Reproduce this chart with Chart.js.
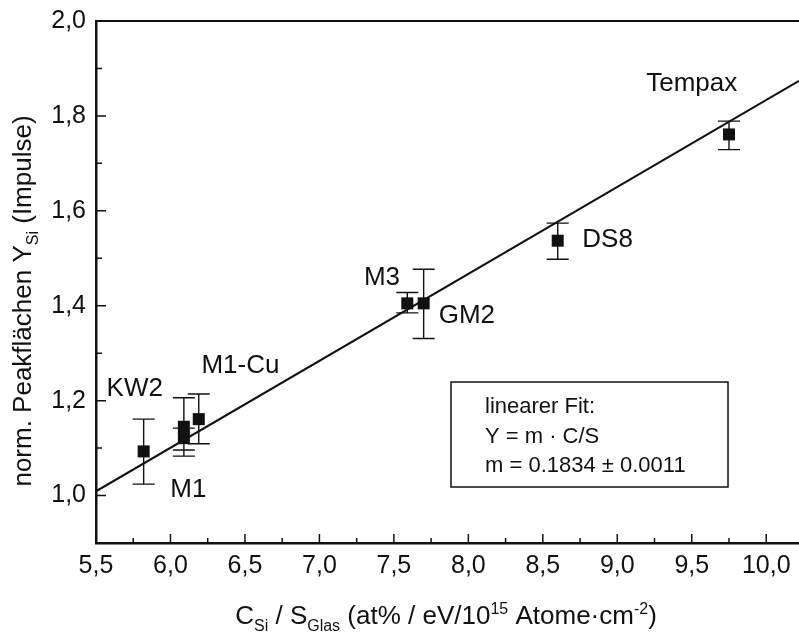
<!DOCTYPE html>
<html>
<head>
<meta charset="utf-8">
<script src="https://cdn.jsdelivr.net/npm/chart.js@4.4.0/dist/chart.umd.min.js"></script>
<style>
  html, body { margin: 0; padding: 0; background: #fff; }
  canvas { display: block; }
</style>
</head>
<body>
<canvas id="fitChart" width="799" height="633"></canvas>
<script>
// values
const sampleNames = ['KW2', 'M1', 'M1', 'M1-Cu', 'M3', 'GM2', 'DS8', 'Tempax'];
const xVals = [5.82, 6.09, 6.09, 6.19, 7.59, 7.70, 8.60, 9.75];
const yVals = [1.093, 1.145, 1.121, 1.161, 1.405, 1.405, 1.537, 1.761];
const yLow = [1.024, 1.083, 1.096, 1.109, 1.385, 1.331, 1.498, 1.729];
const yHigh = [1.161, 1.206, 1.142, 1.214, 1.428, 1.477, 1.574, 1.789];

// linear fit line ends
const fitX = [5.5, 10.22];
const fitY = [1.009, 1.874];

const xTicks = [5.5, 6.0, 6.5, 7.0, 7.5, 8.0, 8.5, 9.0, 9.5, 10.0];
const xMinor = [5.75, 6.25, 6.75, 7.25, 7.75, 8.25, 8.75, 9.25, 9.75, 10.25];
const yTicks = [1.0, 1.2, 1.4, 1.6, 1.8, 2.0];
const yMinor = [1.1, 1.3, 1.5, 1.7, 1.9];

const fitText = ['linearer Fit:', 'Y = m \u00b7 C/S', 'm = 0.1834 \u00b1 0.0011'];

const FONT = '"Liberation Sans", Arial, Helvetica, sans-serif';

// sample labels: [text, x, y] centre in data units
const pointLabels = [
    ['Tempax', 9.50, 1.867],
    ['DS8', 8.935, 1.538],
    ['GM2', 7.99, 1.378],
    ['M3', 7.42, 1.458],
    ['M1-Cu', 6.47, 1.274],
    ['KW2', 5.76, 1.225],
    ['M1', 6.12, 1.011]
];

function fmt(v) {
    return v.toFixed(1).replace('.', ',');
}

// draw text made of [string, 'n'|'sub'|'sup'] parts, centred on x
function drawRich(ctx, parts, x, y, size) {
    const small = Math.round(size * 0.62);
    let total = 0;
    parts.forEach(p => {
        ctx.font = (p[1] === 'n' ? size : small) + 'px ' + FONT;
        total += ctx.measureText(p[0]).width;
    });
    let cx = x - total / 2;
    ctx.textAlign = 'left';
    ctx.textBaseline = 'alphabetic';
    parts.forEach(p => {
        ctx.font = (p[1] === 'n' ? size : small) + 'px ' + FONT;
        let dy = 0;
        if (p[1] === 'sub') dy = size * 0.28;
        if (p[1] === 'sup') dy = -size * 0.4;
        ctx.fillText(p[0], cx, y + dy);
        cx += ctx.measureText(p[0]).width;
    });
}

const extrasPlugin = {
    id: 'extras',
    beforeDatasetsDraw(chart) {
        const ctx = chart.ctx;
        const xs = chart.scales.x, ys = chart.scales.y;
        const area = chart.chartArea;
        ctx.save();
        ctx.strokeStyle = '#111';
        // top frame line
        ctx.lineWidth = 2;
        ctx.beginPath();
        ctx.moveTo(area.left, area.top);
        ctx.lineTo(area.right, area.top);
        ctx.stroke();
        // inward tick marks
        ctx.lineWidth = 1.5;
        ctx.beginPath();
        xTicks.forEach(v => {
            const px = xs.getPixelForValue(v);
            ctx.moveTo(px, area.bottom);
            ctx.lineTo(px, area.bottom - 9);
        });
        xMinor.forEach(v => {
            const px = xs.getPixelForValue(v);
            if (px > area.right) return;
            ctx.moveTo(px, area.bottom);
            ctx.lineTo(px, area.bottom - 5);
        });
        yTicks.forEach(v => {
            const py = ys.getPixelForValue(v);
            ctx.moveTo(area.left, py);
            ctx.lineTo(area.left + 10, py);
        });
        yMinor.forEach(v => {
            const py = ys.getPixelForValue(v);
            ctx.moveTo(area.left, py);
            ctx.lineTo(area.left + 6, py);
        });
        ctx.stroke();
        // error bars
        ctx.lineWidth = 1.4;
        ctx.beginPath();
        xVals.forEach((xv, i) => {
            const px = xs.getPixelForValue(xv);
            const pLo = ys.getPixelForValue(yLow[i]);
            const pHi = ys.getPixelForValue(yHigh[i]);
            ctx.moveTo(px, pLo);
            ctx.lineTo(px, pHi);
            ctx.moveTo(px - 11, pLo);
            ctx.lineTo(px + 11, pLo);
            ctx.moveTo(px - 11, pHi);
            ctx.lineTo(px + 11, pHi);
        });
        ctx.stroke();
        ctx.restore();
    },
    afterDraw(chart) {
        const ctx = chart.ctx;
        const xs = chart.scales.x, ys = chart.scales.y;
        ctx.save();
        ctx.fillStyle = '#111';
        // sample labels
        ctx.font = '26px ' + FONT;
        ctx.textAlign = 'center';
        ctx.textBaseline = 'middle';
        pointLabels.forEach(l => {
            ctx.fillText(l[0], xs.getPixelForValue(l[1]), ys.getPixelForValue(l[2]));
        });
        // fit result box
        ctx.strokeStyle = '#111';
        ctx.lineWidth = 1.5;
        ctx.strokeRect(451, 382, 277, 105);
        ctx.font = '22px ' + FONT;
        ctx.textAlign = 'left';
        fitText.forEach((t, i) => {
            ctx.fillText(t, 485, 407 + i * 29.5);
        });
        // axis titles with sub/superscripts
        drawRich(ctx, [['C', 'n'], ['Si', 'sub'], [' / S', 'n'], ['Glas', 'sub'],
            [' (at% / eV/10', 'n'], ['15', 'sup'], [' Atome\u00b7cm', 'n'], ['-2', 'sup'], [')', 'n']],
            446, 624, 26);
        ctx.translate(31, 301);
        ctx.rotate(-Math.PI / 2);
        drawRich(ctx, [['norm. Peakfl\u00e4chen Y', 'n'], ['Si', 'sub'], [' (Impulse)', 'n']], 0, 0, 26);
        ctx.restore();
    }
};

new Chart(document.getElementById('fitChart'), {
    type: 'scatter',
    data: {
        datasets: [
            {
                label: 'Proben',
                data: xVals.map((x, i) => ({ x: x, y: yVals[i] })),
                pointStyle: 'rect',
                pointRadius: 8.5,
                pointHoverRadius: 8.5,
                backgroundColor: '#111',
                borderColor: '#111',
                borderWidth: 0
            },
            {
                label: 'linearer Fit',
                type: 'line',
                data: fitX.map((x, i) => ({ x: x, y: fitY[i] })),
                borderColor: '#111',
                borderWidth: 2,
                pointRadius: 0,
                fill: false
            }
        ]
    },
    options: {
        responsive: false,
        animation: false,
        layout: { autoPadding: false, padding: { top: 21, left: 0, right: 0, bottom: 0 } },
        plugins: {
            legend: { display: false },
            tooltip: { enabled: false }
        },
        scales: {
            x: {
                type: 'linear',
                min: 5.5,
                max: 10.22,
                grid: { display: false, drawTicks: false },
                border: { display: true, color: '#111', width: 2.5 },
                afterBuildTicks: scale => { scale.ticks = xTicks.map(v => ({ value: v })); },
                afterFit: scale => {
                    scale.height = 90;
                    scale.paddingLeft = 0;
                    scale.paddingRight = 0;
                },
                ticks: {
                    color: '#111',
                    padding: 8,
                    maxRotation: 0,
                    autoSkip: false,
                    font: { family: FONT, size: 25 },
                    callback: v => fmt(v)
                }
            },
            y: {
                type: 'linear',
                min: 0.9,
                max: 2.0,
                grid: { display: false, drawTicks: false },
                border: { display: true, color: '#111', width: 2.5 },
                afterBuildTicks: scale => { scale.ticks = yTicks.map(v => ({ value: v })); },
                afterFit: scale => {
                    scale.width = 96;
                    scale.paddingTop = 0;
                    scale.paddingBottom = 0;
                },
                ticks: {
                    color: '#111',
                    padding: 10,
                    autoSkip: false,
                    font: { family: FONT, size: 25 },
                    callback: v => fmt(v)
                }
            }
        }
    },
    plugins: [extrasPlugin]
});
</script>
</body>
</html>
